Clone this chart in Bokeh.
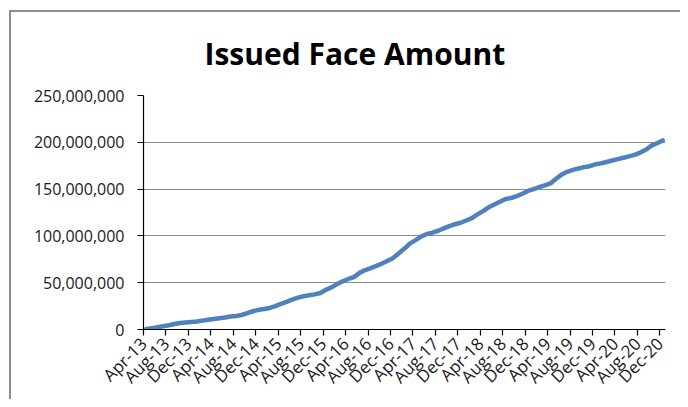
import math
from bokeh.plotting import figure
from bokeh.models import Range1d, FixedTicker, NumeralTickFormatter
from bokeh.embed import file_html
from bokeh.resources import INLINE

# Monthly issued face amount, Apr-13 .. Dec-20
months = [
    "Apr-13", "May-13", "Jun-13", "Jul-13", "Aug-13", "Sep-13", "Oct-13", "Nov-13", "Dec-13",
    "Jan-14", "Feb-14", "Mar-14", "Apr-14", "May-14", "Jun-14", "Jul-14", "Aug-14", "Sep-14",
    "Oct-14", "Nov-14", "Dec-14", "Jan-15", "Feb-15", "Mar-15", "Apr-15", "May-15", "Jun-15",
    "Jul-15", "Aug-15", "Sep-15", "Oct-15", "Nov-15", "Dec-15", "Jan-16", "Feb-16", "Mar-16",
    "Apr-16", "May-16", "Jun-16", "Jul-16", "Aug-16", "Sep-16", "Oct-16", "Nov-16", "Dec-16",
    "Jan-17", "Feb-17", "Mar-17", "Apr-17", "May-17", "Jun-17", "Jul-17", "Aug-17", "Sep-17",
    "Oct-17", "Nov-17", "Dec-17", "Jan-18", "Feb-18", "Mar-18", "Apr-18", "May-18", "Jun-18",
    "Jul-18", "Aug-18", "Sep-18", "Oct-18", "Nov-18", "Dec-18", "Jan-19", "Feb-19", "Mar-19",
    "Apr-19", "May-19", "Jun-19", "Jul-19", "Aug-19", "Sep-19", "Oct-19", "Nov-19", "Dec-19",
    "Jan-20", "Feb-20", "Mar-20", "Apr-20", "May-20", "Jun-20", "Jul-20", "Aug-20", "Sep-20",
    "Oct-20", "Nov-20", "Dec-20",
]

amount_millions = [
    0.5, 1.5, 2.5, 3.5, 4.5, 5.8, 7.0, 7.5, 8.0,
    8.5, 9.5, 10.5, 11.3, 12.0, 12.8, 13.8, 14.5, 15.5,
    17.5, 19.5, 21.0, 22.0, 23.0, 25.0, 27.5, 29.5, 32.0,
    34.0, 35.5, 36.5, 37.5, 39.0, 42.5, 45.0, 48.5, 51.5,
    54.0, 56.0, 60.5, 63.5, 65.5, 68.0, 70.5, 73.5, 76.5,
    81.5, 86.5, 92.0, 95.5, 99.5, 102.0, 103.5, 105.5, 108.0,
    110.5, 112.5, 114.0, 116.5, 119.0, 123.0, 126.5, 130.5, 133.5,
    136.5, 139.5, 140.5, 142.5, 145.0, 148.0, 150.0, 152.0, 154.0,
    156.0, 161.0, 165.5, 168.5, 170.5, 172.0, 173.5, 174.5, 176.5,
    177.5, 179.0, 180.5, 182.0, 183.5, 185.0, 186.5, 189.0, 192.0,
    196.5, 199.0, 202.0,
]

y_ticks = [0, 50_000_000, 100_000_000, 150_000_000, 200_000_000, 250_000_000]
label_every = 4
title_text = "Issued Face Amount"

# category positions (centre of each month slot)
xs = [i + 0.5 for i in range(len(months))]
ys = [v * 1_000_000 for v in amount_millions]

FONT = "Open Sans"
TEXT = "#1a1a1a"

p = figure(
    width=680, height=399,
    output_backend="svg", toolbar_location=None,
    x_range=Range1d(0, len(months)), y_range=Range1d(0, 250_000_000),
    min_border_left=143, min_border_right=15, min_border_top=95, min_border_bottom=70,
    title=title_text,
)
p.border_fill_color = None
p.styles = {
    "background-color": "#ffffff",
    "box-shadow": "inset 9px 10px 0 0 #ffffff, inset 11px 12px 0 0 #8c8c8c",
}

p.title.text_font = FONT
p.title.text_font_size = "30px"
p.title.text_font_style = "bold"
p.title.text_color = "#000000"
p.title.align = "left"
p.title.offset = 61
p.title.standoff = 44

p.line(xs, ys, line_color="#4F81BD", line_width=4.5, line_join="round", line_cap="round")

p.background_fill_color = "#ffffff"
p.outline_line_color = None
p.xgrid.visible = False
p.ygrid.grid_line_color = "#8c8c8c"
p.ygrid.grid_line_width = 1
p.ygrid.ticker = FixedTicker(ticks=y_ticks)

tick_pos = list(range(0, len(months), label_every))
p.xaxis.ticker = FixedTicker(ticks=tick_pos)
p.xaxis.major_label_overrides = {t: months[t] for t in tick_pos}
p.xaxis.major_label_orientation = math.pi / 4
p.xaxis.major_label_standoff = 5
p.xaxis.major_label_text_font_size = "17px"

p.yaxis.ticker = FixedTicker(ticks=y_ticks)
p.yaxis.formatter = NumeralTickFormatter(format="0,0")
p.yaxis.major_label_standoff = 13
p.yaxis.major_label_text_font_size = "16px"

for ax in (p.xaxis[0], p.yaxis[0]):
    ax.axis_line_color = "#000000"
    ax.axis_line_width = 1.2
    ax.major_tick_line_color = "#000000"
    ax.major_tick_line_width = 1.2
    ax.major_tick_out = 6
    ax.major_tick_in = 0
    ax.minor_tick_line_color = None
    ax.major_label_text_font = FONT
    ax.major_label_text_color = TEXT

open("out.html", "w").write(file_html(p, INLINE))
